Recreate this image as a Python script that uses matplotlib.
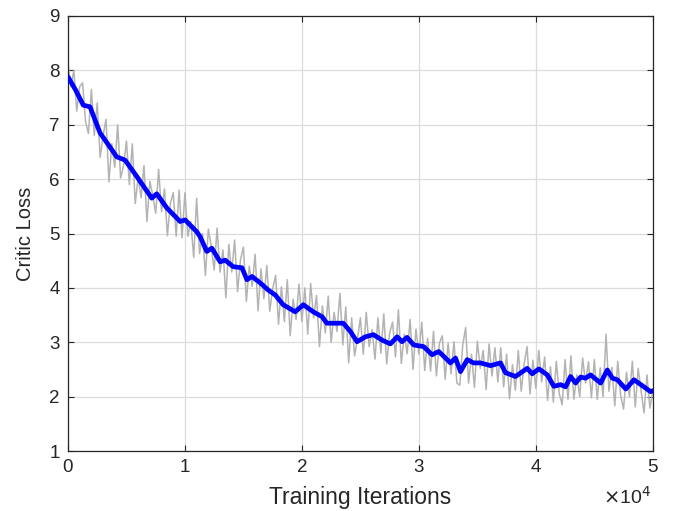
import numpy as np
import matplotlib
matplotlib.use("Agg")
import matplotlib.pyplot as plt

plt.rcParams['font.family'] = ['Liberation Sans', 'DejaVu Sans']

# Smoothed (blue) curve: iteration, critic loss
blue_x = [0, 650, 1310, 1883, 2740, 4170, 4880, 5880, 7165, 7590, 8450, 9590, 10015,
          11020, 11300, 11870, 12300, 13010, 13440, 14120, 14870, 15300, 15730, 16440,
          17120, 17720, 18400, 19430, 20120, 20970, 21720, 22140, 23000, 23540, 24140,
          24710, 25420, 26110, 26850, 27560, 28140, 28560, 28990, 29560, 30410, 31130,
          31700, 32700, 33130, 33560, 34130, 34690, 35270, 36120, 36980, 37410, 38260,
          39260, 39690, 40260, 40980, 41540, 42120, 42540, 42970, 43400, 43830, 44250,
          44680, 45540, 46110, 46540, 46970, 47690, 48390, 49110, 49820, 50000]
blue_y = [7.88, 7.64, 7.36, 7.33, 6.85, 6.41, 6.35, 6.05, 5.65, 5.73, 5.47, 5.22, 5.25,
          5.03, 4.94, 4.67, 4.73, 4.48, 4.51, 4.39, 4.37, 4.15, 4.21, 4.09,
          3.96, 3.87, 3.69, 3.56, 3.69, 3.56, 3.47, 3.35, 3.35, 3.35, 3.20,
          3.01, 3.10, 3.14, 3.04, 2.97, 3.10, 3.01, 3.09, 2.95, 2.92, 2.77,
          2.83, 2.62, 2.71, 2.46, 2.68, 2.62, 2.62, 2.57, 2.62, 2.44, 2.37,
          2.52, 2.42, 2.51, 2.40, 2.19, 2.22, 2.18, 2.37, 2.25, 2.36, 2.34,
          2.40, 2.25, 2.49, 2.34, 2.31, 2.14, 2.31, 2.20, 2.09, 2.11]

# Raw (gray) curve, one value every 250 iterations
raw_step = 250
raw_y = [8.13, 7.70, 8.00, 7.25, 7.70, 7.77, 7.06, 6.84, 7.65, 6.80,
         7.40, 6.40, 6.80, 7.10, 5.95, 6.65, 6.22, 7.00, 6.02, 6.25,
         6.70, 5.90, 6.65, 5.55, 6.03, 5.66, 6.25, 5.22, 5.96, 5.70,
         5.37, 6.18, 5.40, 5.82, 4.96, 5.55, 5.75, 4.95, 5.80, 4.92,
         5.75, 4.95, 5.22, 4.56, 5.65, 4.63, 5.00, 4.23, 5.08, 4.77,
         4.33, 5.10, 4.29, 4.70, 3.82, 4.80, 4.29, 4.88, 3.93, 4.52,
         4.75, 3.75, 4.40, 4.03, 4.62, 3.58, 4.35, 3.80, 4.41, 3.57,
         3.98, 4.23, 3.33, 4.02, 3.38, 4.15, 3.12, 3.79, 3.42, 4.07,
         3.38, 4.00, 3.15, 4.08, 3.45, 3.86, 2.92, 3.67, 3.17, 3.85,
         3.00, 3.55, 3.20, 3.90, 2.95, 3.65, 2.62, 3.45, 2.75, 3.06,
         3.45, 2.78, 3.55, 2.92, 3.23, 2.69, 3.45, 2.80, 3.52, 2.60,
         3.17, 3.37, 2.73, 3.60, 2.61, 3.15, 2.79, 3.42, 2.50, 3.24,
         2.78, 3.37, 2.48, 3.07, 2.47, 3.20, 2.38, 2.98, 3.12, 2.32,
         2.98, 2.42, 3.01, 2.25, 2.21, 2.95, 3.27, 2.25, 2.78, 2.17,
         3.02, 2.52, 2.85, 2.13, 2.97, 2.38, 2.90, 2.27, 2.90, 2.18,
         2.78, 1.96, 2.59, 2.12, 2.85, 2.10, 2.60, 2.92, 2.05, 2.67,
         2.15, 2.85, 2.27, 2.73, 1.93, 2.55, 1.90, 2.65, 2.06, 1.85,
         2.68, 1.95, 2.75, 1.95, 2.40, 2.00, 2.71, 2.25, 2.64, 1.98,
         2.68, 1.95, 2.53, 2.00, 3.15, 2.10, 2.54, 1.83, 2.65, 2.02,
         1.77, 2.45, 2.00, 2.65, 1.81, 2.52, 2.10, 1.70, 2.40, 1.79,
         2.10]
raw_x = np.arange(len(raw_y)) * raw_step

x_ticks = [0, 10000, 20000, 30000, 40000, 50000]
x_tick_labels = ['0', '1', '2', '3', '4', '5']
y_ticks = [1, 2, 3, 4, 5, 6, 7, 8, 9]

fig = plt.figure(figsize=(6.73, 5.11), dpi=100)
ax = fig.add_axes([0.101, 0.1174, 0.869, 0.8513])

ax.plot(raw_x, raw_y, color='#b3b3b3', lw=1.1, zorder=2)
ax.plot(blue_x, blue_y, color='#0000ff', lw=3.4, zorder=3,
        solid_joinstyle='round', solid_capstyle='round')

ax.set_xlim(0, 50000)
ax.set_ylim(1, 9)
ax.set_xticks(x_ticks)
ax.set_xticklabels(x_tick_labels)
ax.set_yticks(y_ticks)
ax.grid(True, color='#dcdcdc', lw=0.9)
ax.set_axisbelow(True)
ax.tick_params(direction='in', top=True, right=True, length=4, width=0.8,
               colors='#262626', labelsize=13.5, pad=6)
for s in ax.spines.values():
    s.set_color('#262626')
    s.set_linewidth(0.9)

ax.set_xlabel('Training Iterations', fontsize=16.5, color='#262626', labelpad=7)
ax.set_ylabel('Critic Loss', fontsize=14.5, color='#262626', labelpad=10)
fig.text(0.968, 0.014, r'$\times$10$^4$', ha='right', va='baseline', fontsize=14,
         color='#262626')

fig.savefig('out.png', dpi=100)
